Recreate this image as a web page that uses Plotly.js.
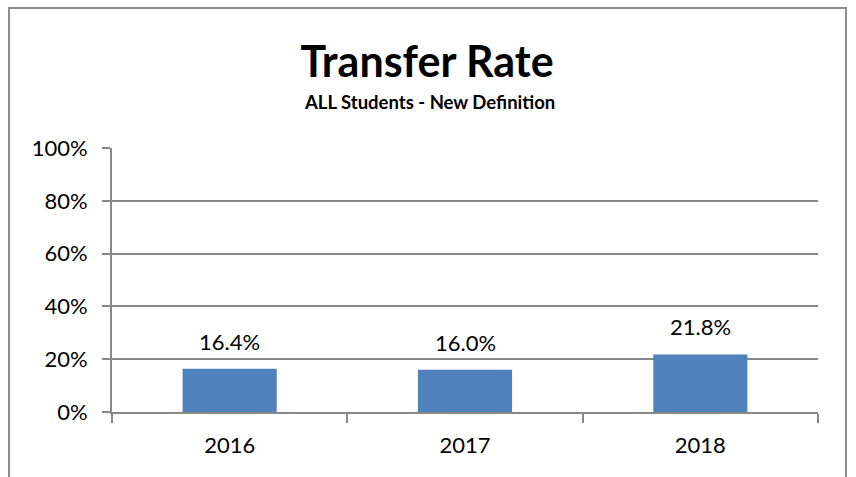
<!DOCTYPE html>
<html>
<head>
<meta charset="utf-8">
<script src="https://cdn.plot.ly/plotly-3.0.1.min.js"></script>
<style>html,body{margin:0;padding:0;background:#fff;}</style>
</head>
<body>
<div id="chart" style="width:856px;height:477px;"></div>
<script>
const years = ["2016", "2017", "2018"];
const rates = [0.164, 0.160, 0.218];
const rateLabels = ["16.4%", "16.0%", "21.8%"];
const yTickVals = [0, 0.2, 0.4, 0.6, 0.8, 1.0];
const yTickText = ["0%", "20%", "40%", "60%", "80%", "100%"];

const FONT = "Lato, 'Open Sans', sans-serif";

const trace = {
  type: "bar",
  x: years,
  y: rates,
  width: 0.4,
  marker: {color: "#4F81BD", line: {width: 0}},
  hoverinfo: "none"
};

const annotations = years.map((yr, i) => ({
  x: i, y: rates[i], xref: "x", yref: "y",
  text: rateLabels[i], showarrow: false,
  yanchor: "bottom", yshift: 12,
  font: {family: FONT, size: 22, color: "#000"}
}));
annotations.push({
  text: "<b>ALL Students - New Definition</b>",
  xref: "paper", yref: "paper", x: (429 - 112) / 706, y: (412 - 102) / 264,
  xanchor: "center", yanchor: "middle", showarrow: false,
  font: {family: FONT, size: 18.5, color: "#000"}
});

const layout = {
  width: 856, height: 477,
  margin: {l: 112, r: 38, t: 148, b: 65},
  paper_bgcolor: "#fff", plot_bgcolor: "#fff",
  showlegend: false,
  title: {
    text: "<b>Transfer Rate</b>",
    x: 427 / 856, xanchor: "center",
    y: 1 - 62 / 477, yanchor: "middle",
    font: {family: FONT, size: 43, color: "#000"}
  },
  xaxis: {
    type: "category",
    categoryarray: years, categoryorder: "array",
    range: [-0.5, 2.5],
    showgrid: false,
    showline: true, linecolor: "#888", linewidth: 2,
    ticks: "outside", ticklen: 9, tickcolor: "#888", tickwidth: 2,
    tickson: "boundaries",
    tickangle: 0,
    tickfont: {family: FONT, size: 22, color: "#000"},
    ticklabelstandoff: 13,
    fixedrange: true
  },
  yaxis: {
    range: [0, 1],
    tickvals: yTickVals, ticktext: yTickText,
    showgrid: true, gridcolor: "#888", gridwidth: 2,
    showline: true, linecolor: "#888", linewidth: 2,
    ticks: "outside", ticklen: 8, tickcolor: "#888", tickwidth: 2,
    tickfont: {family: FONT, size: 22, color: "#000"},
    ticklabelstandoff: 10,
    zeroline: false,
    fixedrange: true
  },
  annotations: annotations,
  shapes: [{
    type: "rect", xref: "paper", yref: "paper",
    x0: (9 - 112) / 706, x1: (846 - 112) / 706,
    y0: -0.35, y1: (412 - 8) / 264,
    line: {color: "#8c8c8c", width: 2}, fillcolor: "rgba(0,0,0,0)", layer: "below"
  }]
};

Plotly.newPlot("chart", [trace], layout, {staticPlot: true, displayModeBar: false});
</script>
</body>
</html>
